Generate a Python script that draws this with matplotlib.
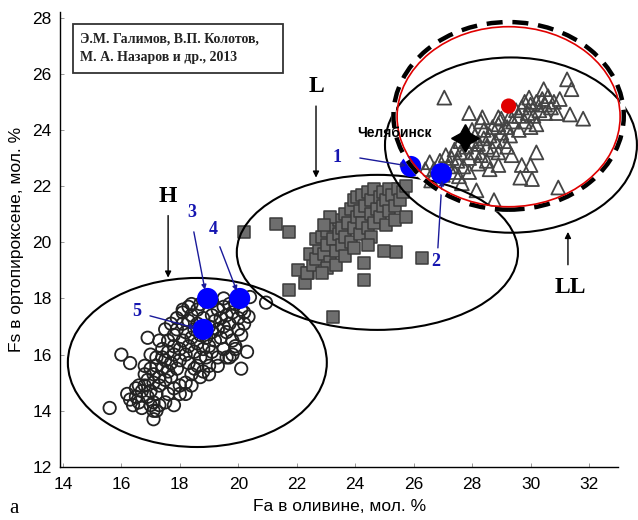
import numpy as np
import matplotlib
matplotlib.use("Agg")
import matplotlib.pyplot as plt
from matplotlib.patches import Ellipse, Rectangle

# ---------------- data (Fa in olivine, Fs in orthopyroxene, mol. %) ----------------
h_points = [
    (15.6, 14.1), (16.0, 16.0), (16.3, 15.7), (17.8, 14.2), (18.2, 14.6), (17.1, 14.3),
    (17.1, 13.7), (17.1, 14.0), (20.3, 16.1), (20.1, 15.5), (20.35, 17.35), (20.4, 18.05),
    (20.95, 17.85),
    (16.2, 14.6), (16.3, 14.4), (16.4, 14.2), (16.5, 14.5), (16.6, 14.3), (16.7, 14.1),
    (16.5, 14.8), (16.7, 14.7), (16.8, 14.9), (16.9, 14.5), (17.0, 14.2), (17.0, 14.7),
    (16.9, 15.1), (17.1, 15.0), (17.2, 14.6), (17.1, 15.3), (17.3, 15.2), (17.3, 14.9),
    (17.2, 15.6), (17.4, 15.5), (17.5, 15.1), (17.5, 15.8), (17.6, 15.4), (17.7, 15.7),
    (17.4, 15.9), (17.6, 16.1), (17.8, 16.0), (17.7, 15.2), (17.9, 15.5), (17.8, 16.3),
    (18.0, 16.2), (18.0, 15.8), (18.1, 16.5), (18.2, 16.0), (18.2, 16.8), (18.3, 16.3),
    (18.4, 16.6), (18.3, 15.7), (18.5, 16.1), (18.5, 16.9), (18.6, 16.4), (18.6, 17.1),
    (18.7, 16.7), (18.8, 16.2), (18.8, 17.3), (18.9, 16.6), (19.0, 17.0), (19.0, 16.3),
    (19.1, 17.4), (19.1, 16.8), (19.2, 16.5), (19.2, 17.2), (19.3, 17.6), (19.3, 16.9),
    (19.4, 17.3), (19.4, 16.6), (19.5, 17.0), (19.5, 17.7), (19.6, 17.4), (19.6, 16.8),
    (19.7, 17.1), (19.8, 17.5), (19.8, 16.5), (19.9, 17.8), (20.0, 17.3), (20.0, 16.9),
    (20.1, 17.6), (20.2, 17.1), (19.9, 16.2), (19.7, 15.9), (19.5, 16.2), (19.3, 15.9),
    (19.0, 15.6), (18.8, 15.4), (18.6, 15.6), (18.4, 15.3), (18.2, 15.0), (18.0, 14.9),
    (17.8, 14.8), (17.6, 14.6), (17.5, 14.3), (17.3, 14.2), (17.2, 14.0), (16.6, 14.9),
    (16.8, 15.3), (17.0, 15.5), (17.2, 15.9), (17.4, 16.2), (17.6, 16.5), (17.8, 16.7),
    (17.9, 16.9), (18.1, 17.1), (18.3, 17.2), (18.4, 17.4), (18.6, 17.6), (18.1, 17.5),
    (18.3, 17.7), (18.7, 17.8), (19.1, 17.9), (19.5, 18.0), (19.7, 17.8), (18.9, 15.9),
    (19.1, 16.1), (18.7, 15.9), (18.5, 15.5), (19.8, 16.0), (16.8, 15.6), (17.0, 16.0),
    (17.3, 16.5), (16.9, 16.6), (17.5, 16.9), (17.7, 17.1), (17.9, 17.3), (18.1, 17.6),
    (18.4, 17.8), (18.0, 14.6), (18.4, 14.9), (18.7, 15.2), (19.0, 15.3), (19.3, 15.6),
    (19.6, 15.9), (19.9, 16.3), (20.1, 16.7), (20.2, 17.5),
]

l_points = [
    (20.2, 20.35), (21.3, 20.65), (21.75, 20.35), (21.75, 18.3), (22.3, 18.55), (22.05, 19.0),
    (22.4, 18.9), (24.3, 18.65), (24.3, 19.25), (23.25, 17.35), (26.3, 19.45), (25.4, 19.65),
    (25.0, 19.7),
    (22.35, 18.9), (22.55, 19.2), (22.45, 19.6), (22.65, 19.4), (22.75, 19.8), (22.65, 20.1),
    (22.85, 20.2), (22.95, 19.6), (23.05, 19.9), (23.05, 20.4), (23.15, 19.3), (23.25, 20.1),
    (23.25, 20.6), (23.35, 19.7), (23.45, 20.3), (23.45, 20.8), (23.55, 19.9), (23.55, 20.5),
    (23.65, 21.0), (23.65, 20.2), (23.75, 20.7), (23.85, 21.2), (23.85, 20.0), (23.95, 20.5),
    (23.95, 21.5), (24.05, 20.9), (24.05, 21.6), (24.15, 20.3), (24.15, 21.1), (24.25, 21.7),
    (24.25, 20.7), (24.35, 21.3), (24.45, 20.5), (24.45, 21.8), (24.55, 21.0), (24.55, 21.5),
    (24.65, 20.7), (24.65, 21.9), (24.75, 21.2), (24.85, 21.6), (24.85, 20.9), (24.95, 21.8),
    (24.95, 21.3), (25.05, 20.6), (25.05, 21.5), (25.15, 21.9), (25.15, 21.1), (25.25, 21.7),
    (25.35, 21.3), (25.35, 20.8), (25.45, 21.9), (25.55, 21.5), (25.65, 21.8), (25.75, 20.9),
    (25.75, 22.0), (23.05, 19.1), (23.35, 19.2), (22.85, 18.9), (23.65, 19.5), (23.95, 19.8),
    (24.55, 20.2), (24.45, 19.9), (23.15, 20.9), (22.95, 20.6),
]

ll_points = [
    (27.05, 25.15), (27.9, 24.6), (28.35, 24.45), (28.9, 24.45), (30.45, 25.45), (31.25, 25.8),
    (31.4, 25.45), (31.8, 24.4), (31.35, 24.55), (29.95, 25.15), (28.9, 22.75), (29.7, 22.75),
    (30.0, 22.75), (30.2, 23.2), (29.65, 22.3), (30.05, 22.25), (30.95, 21.95), (28.15, 21.85),
    (28.75, 21.5), (29.35, 23.1), (26.55, 22.85), (27.55, 22.35), (27.65, 22.1),
    (26.7, 22.6), (26.9, 22.9), (27.0, 22.4), (27.1, 23.1), (27.2, 22.7), (27.3, 23.0),
    (27.4, 22.5), (27.4, 23.3), (27.5, 22.9), (27.6, 23.2), (27.7, 22.7), (27.8, 23.4),
    (27.9, 23.0), (28.0, 23.6), (28.1, 23.2), (28.1, 23.8), (28.2, 23.5), (28.3, 23.1),
    (28.4, 23.7), (28.4, 24.0), (28.5, 23.4), (28.6, 23.8), (28.7, 24.1), (28.7, 23.3),
    (28.8, 23.6), (28.9, 24.2), (29.0, 23.9), (29.0, 24.4), (29.1, 23.6), (29.2, 24.1),
    (29.3, 24.5), (29.3, 23.8), (29.4, 24.3), (29.5, 24.7), (29.6, 24.0), (29.6, 24.5),
    (29.7, 24.8), (29.8, 24.3), (29.8, 25.0), (29.9, 24.6), (30.0, 24.1), (30.0, 24.9),
    (30.1, 24.5), (30.2, 25.0), (30.2, 24.2), (30.3, 24.7), (30.4, 25.1), (30.5, 24.6),
    (30.5, 24.9), (30.6, 25.2), (30.7, 24.8), (30.8, 25.0), (30.9, 24.6), (31.0, 25.1),
    (28.2, 22.8), (27.9, 22.5), (28.5, 22.9), (28.9, 23.2), (29.2, 23.4), (28.6, 22.6),
    (27.6, 23.6), (28.0, 24.0), (28.3, 24.3), (26.4, 22.6), (26.6, 22.2),
]

blue_labels = ["1", "2", "3", "4", "5"]
blue_fa = [25.9, 26.95, 18.95, 20.05, 18.8]
blue_fs = [22.7, 22.45, 18.0, 18.0, 16.9]
red_point = (29.25, 24.85)
chelyabinsk = (27.76, 23.72)

# ellipses: (center_fa, center_fs, width, height)
ell_H = (18.6, 15.72, 8.86, 6.02)
ell_L = (24.76, 19.64, 9.62, 5.52)
ell_LL = (29.33, 23.46, 8.62, 6.24)
ell_red = (29.25, 24.47, 7.63, 6.41)
ell_dash = (29.25, 24.5, 7.88, 6.68)

x_ticks = [14, 16, 18, 20, 22, 24, 26, 28, 30, 32]
y_ticks = [12, 14, 16, 18, 20, 22, 24, 26, 28]

# ---------------- figure ----------------
fig = plt.figure(figsize=(6.38, 5.2), dpi=100)
ax = fig.add_axes([0.094, 0.102, 0.875, 0.875])
ax.set_xlim(13.9, 33.0)
ax.set_ylim(12, 28.2)

sans = ["Liberation Sans", "DejaVu Sans"]
serif = ["Liberation Serif", "DejaVu Serif"]

hp = np.array(h_points)
lp = np.array(l_points)
llp = np.array(ll_points)

ax.scatter(hp[:, 0], hp[:, 1], s=80, facecolors="none", edgecolors="#222222",
           linewidths=1.3, zorder=2)
ax.scatter(lp[:, 0], lp[:, 1], s=78, marker="s", facecolors="#6e6e6e",
           edgecolors="#3c3c3c", linewidths=1.1, zorder=2)
ax.scatter(llp[:, 0], llp[:, 1], s=100, marker="^", facecolors="none",
           edgecolors="#444444", linewidths=1.3, zorder=2)

for (cx, cy, w, h) in (ell_H, ell_L, ell_LL):
    ax.add_patch(Ellipse((cx, cy), w, h, fill=False, edgecolor="black", lw=1.5,
                         zorder=3, clip_on=False))

ax.scatter(blue_fa, blue_fs, s=230, color="#0000ff", zorder=3.5, edgecolors="none")
ax.scatter([red_point[0]], [red_point[1]], s=120, color="#e00000", zorder=3.5,
           edgecolors="none")
ax.plot([chelyabinsk[0]], [chelyabinsk[1]], marker=(4, 1, 0), ms=20, color="black",
        zorder=5, linestyle="none")

cx, cy, w, h = ell_dash
ax.add_patch(Ellipse((cx, cy), w, h, fill=False, edgecolor="white", lw=3.2, zorder=4,
                     clip_on=False))
ax.add_patch(Ellipse((cx, cy), w, h, fill=False, edgecolor="black", lw=3.2, zorder=4.1,
                     linestyle=(0, (3.6, 2.2)), clip_on=False))
cx, cy, w, h = ell_red
ax.add_patch(Ellipse((cx, cy), w, h, fill=False, edgecolor="#e00000", lw=1.2, zorder=4.2,
                     clip_on=False))

ax.text(25.36, 23.9, "Челябинск", fontsize=10, fontweight="bold", family=sans,
        ha="center", va="center", zorder=6)

# group labels with arrows
grp = [("H", (17.59, 21.62), (17.6, 20.95), (17.6, 18.74)),
       ("L", (22.69, 25.55), (22.66, 24.85), (22.66, 22.3)),
       ("LL", (31.35, 18.38), (31.28, 19.2), (31.28, 20.37))]
for name, tp, a0, a1 in grp:
    ax.text(tp[0], tp[1], name, fontsize=17, fontweight="bold", family=serif,
            ha="center", va="center")
    ax.annotate("", xy=a1, xytext=a0,
                arrowprops=dict(arrowstyle="-|>", color="black", lw=1.0,
                                mutation_scale=9, shrinkA=0, shrinkB=0))

# numbered blue labels
num_txt = [(23.38, 23.02), (26.77, 19.31), (18.41, 21.05), (19.13, 20.45), (16.53, 17.52)]
num_a0 = [(24.16, 23.0), (26.83, 19.8), (18.48, 20.37), (19.37, 19.84), (16.98, 17.38)]
num_a1 = [(25.74, 22.73), (26.97, 22.2), (18.86, 18.31), (19.95, 18.27), (18.52, 16.95)]
for lab, tp, a0, a1 in zip(blue_labels, num_txt, num_a0, num_a1):
    ax.text(tp[0], tp[1], lab, fontsize=13, fontweight="bold", family=serif,
            color="#1515b0", ha="center", va="center")
    ax.annotate("", xy=a1, xytext=a0,
                arrowprops=dict(arrowstyle="-|>", color="#1a1a9a", lw=1.0,
                                mutation_scale=7, shrinkA=0, shrinkB=0), zorder=3.6)

# reference box
ax.add_patch(Rectangle((0.023, 0.866), 0.377, 0.108, transform=ax.transAxes,
                       fill=False, edgecolor="#333333", lw=1.3))
ax.text(0.036, 0.94, "Э.М. Галимов, В.П. Колотов,", transform=ax.transAxes,
        fontsize=10, fontweight="bold", family=serif, va="center", ha="left",
        color="#222222")
ax.text(0.036, 0.901, "М. А. Назаров и др., 2013", transform=ax.transAxes,
        fontsize=10, fontweight="bold", family=serif, va="center", ha="left",
        color="#222222")

# axes styling
for s in ("top", "right"):
    ax.spines[s].set_visible(False)
ax.spines["left"].set_linewidth(1.0)
ax.spines["bottom"].set_linewidth(1.0)
ax.set_xticks(x_ticks)
ax.set_yticks(y_ticks)
ax.tick_params(direction="in", length=3, width=0.6, color="#888888", labelsize=12.5)
ax.tick_params(axis="x", pad=7)
ax.tick_params(axis="y", pad=6)
for lbl in ax.get_xticklabels() + ax.get_yticklabels():
    lbl.set_family(sans)
ax.set_xlabel("Fa в оливине, мол. %", fontsize=12.5, family=sans, labelpad=5)
ax.set_ylabel("Fs в ортопироксене, мол. %", fontsize=12.5, family=sans, labelpad=6)
fig.text(0.014, 0.004, "a", fontsize=15, family=serif, ha="left", va="bottom")

fig.savefig("out.png", dpi=100)
